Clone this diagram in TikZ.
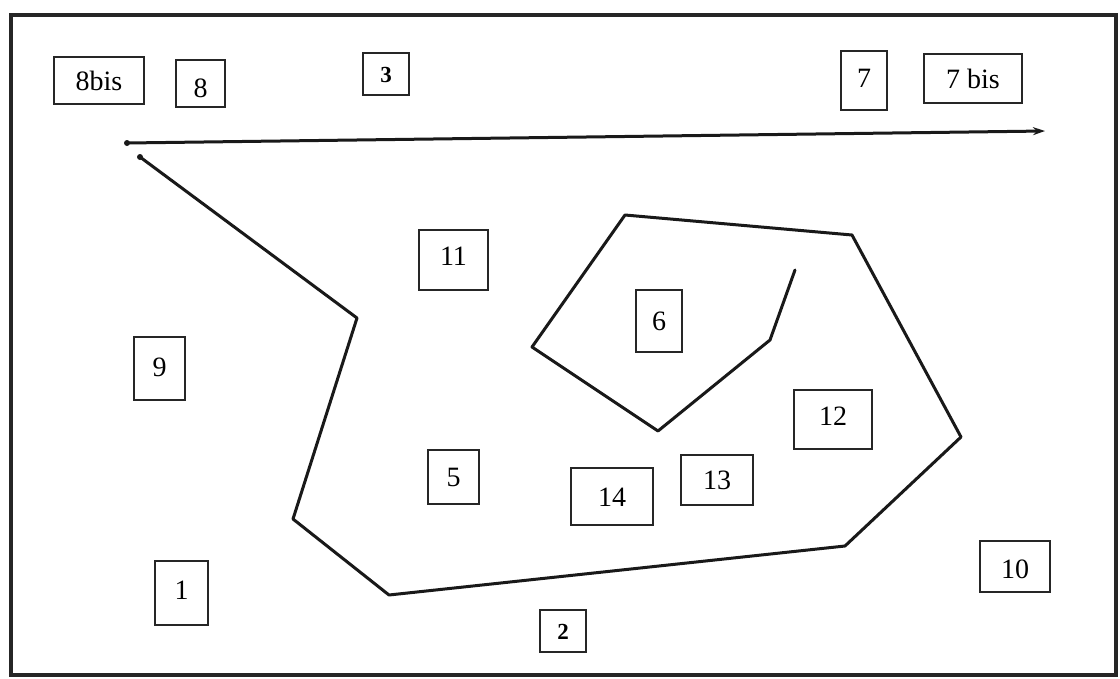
\documentclass[tikz,border=0pt]{standalone}
\usepackage{fontspec}
\setmainfont{Liberation Serif}
\usetikzlibrary{arrows.meta}
\begin{document}
\begin{tikzpicture}[x=1pt,y=-1pt,
  lbl/.style={draw=black!85, line width=1.4pt, inner sep=0pt, text height=19pt, text depth=0pt,
    font=\fontsize{28}{31}\selectfont},
  blbl/.style={lbl, text height=16pt, font=\fontsize{23}{26}\selectfont\bfseries},
  frame/.style={draw=black!85, line width=3.5pt},
  track/.style={draw=black!90, line width=3pt, line join=round, line cap=round},
  vtx/.style={circle, fill=black!90, inner sep=0pt, minimum size=6pt}]
\useasboundingbox (0,0) rectangle (1120,678);
\fill[white] (0,0) rectangle (1120,678);
\draw[frame] (11,15) rectangle (1116,675);

% labels
\node[lbl, minimum width=90pt, minimum height=47pt] (b8bis) at (99,80.5) {8bis};
\node[lbl, minimum width=49pt, minimum height=47pt] (b8) at (200.5,83.5) {\raisebox{-4pt}{8}};
\node[blbl, minimum width=46pt, minimum height=42pt] (b3) at (386,74) {3};
\node[lbl, minimum width=46pt, minimum height=59pt] (b7) at (864,80.5) {\raisebox{3pt}{7}};
\node[lbl, minimum width=98pt, minimum height=49pt] (b7bis) at (973,78.5) {7 bis};
\node[lbl, minimum width=69pt, minimum height=60pt] (b11) at (453.5,260) {\raisebox{4pt}{11}};
\node[lbl, minimum width=46pt, minimum height=62pt] (b6) at (659,321) {6};
\node[lbl, minimum width=51pt, minimum height=63pt] (b9) at (159.5,368.5) {\raisebox{2pt}{9}};
\node[lbl, minimum width=78pt, minimum height=59pt] (b12) at (833,419.5) {\raisebox{4pt}{12}};
\node[lbl, minimum width=51pt, minimum height=54pt] (b5) at (453.5,477) {5};
\node[lbl, minimum width=82pt, minimum height=57pt] (b14) at (612,496.5) {14};
\node[lbl, minimum width=72pt, minimum height=50pt] (b13) at (717,480) {13};
\node[lbl, minimum width=70pt, minimum height=51pt] (b10) at (1015,566.5) {\raisebox{-2pt}{10}};
\node[lbl, minimum width=53pt, minimum height=64pt] (b1) at (181.5,593) {\raisebox{3pt}{1}};
\node[blbl, minimum width=46pt, minimum height=42pt] (b2) at (563,631) {2};

% top arrow
\coordinate (a0) at (127,143);
\coordinate (a1) at (1045,131);
\draw[track, -{Stealth[length=12pt,width=8pt]}] (a0) -- (a1);
\node[vtx] (d0) at (a0) {};

% polyline
\coordinate (p1) at (140,157);
\coordinate (p2) at (357,318);
\coordinate (p3) at (293,519);
\coordinate (p4) at (389,595);
\coordinate (p5) at (845,546);
\coordinate (p6) at (961,437);
\coordinate (p7) at (852,235);
\coordinate (p8) at (625,215);
\coordinate (p9) at (532,347);
\coordinate (p10) at (658,431);
\coordinate (p11) at (770,340);
\coordinate (p12) at (795,270);
\draw[track] (p1) -- (p2) -- (p3) -- (p4) -- (p5) -- (p6) -- (p7) -- (p8) -- (p9) -- (p10) -- (p11) -- (p12);
\node[vtx] (d1) at (p1) {};
\end{tikzpicture}
\end{document}
